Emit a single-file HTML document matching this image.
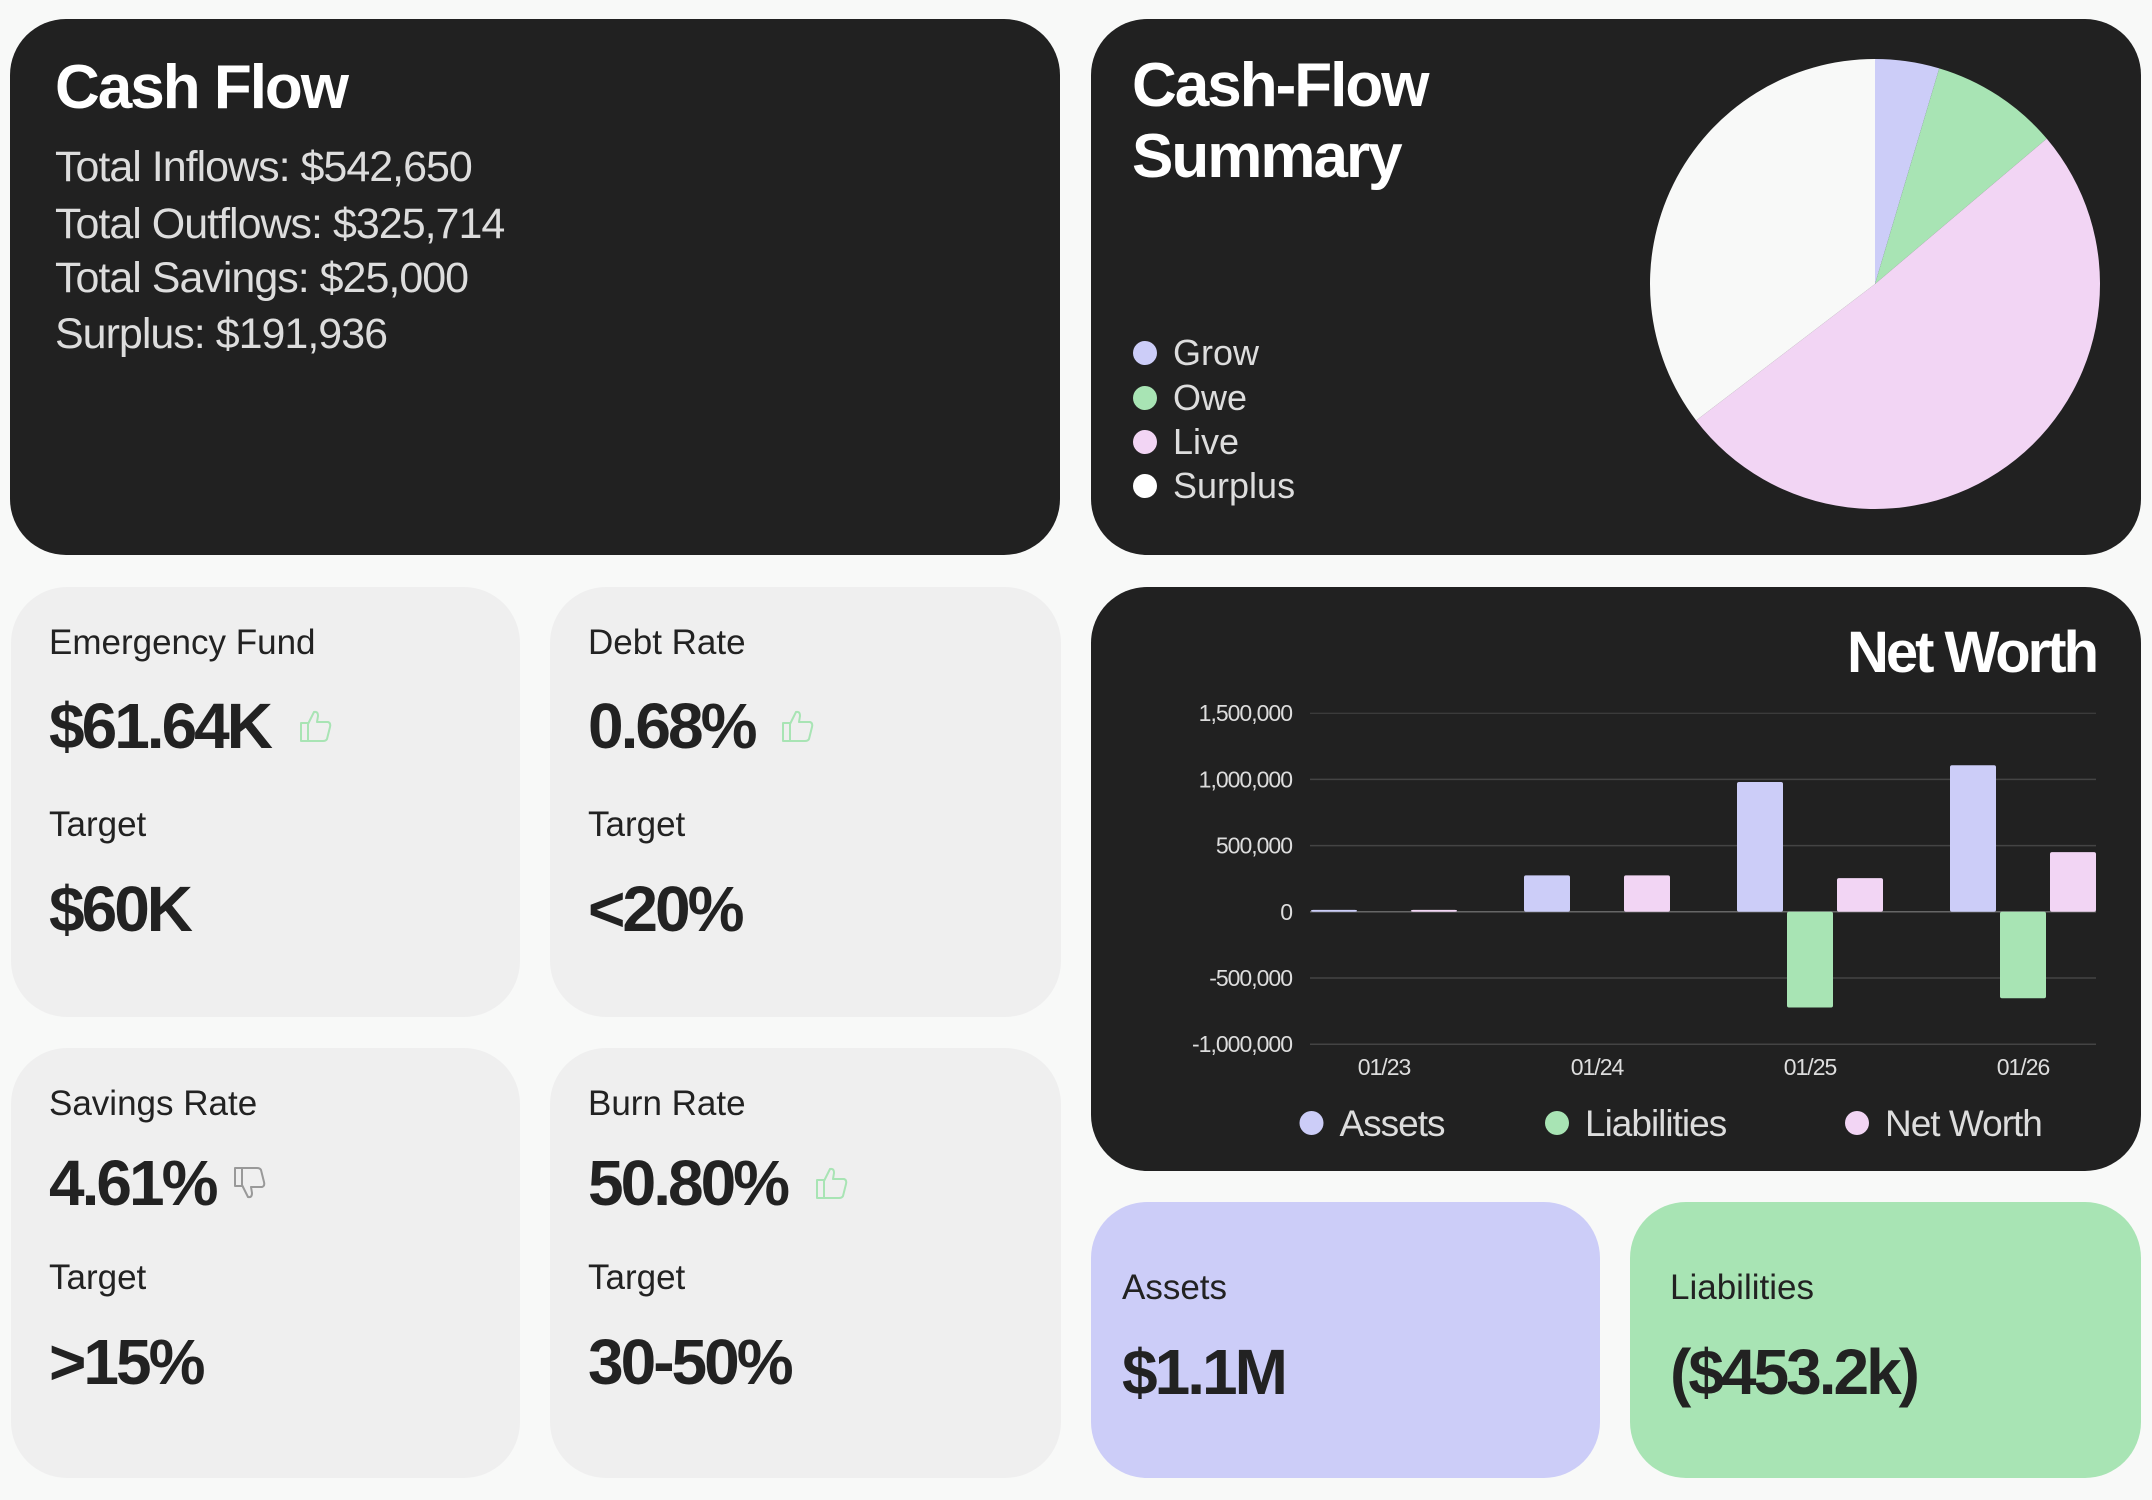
<!DOCTYPE html>
<html><head><meta charset="utf-8">
<style>
*{margin:0;padding:0;box-sizing:border-box}
body{width:2152px;height:1500px;background:#f8f9f8;font-family:"Liberation Sans",sans-serif;position:relative;overflow:hidden}
.card{position:absolute;border-radius:56px}
.dark{background:#212121}
.light{background:#efefef}
.t{position:absolute;white-space:nowrap;line-height:1}
.h{font-weight:bold;letter-spacing:-2px}
.lbl{font-size:35px;color:#222}
.big{font-size:64px;font-weight:bold;letter-spacing:-3px;color:#222}
.ic{position:absolute;width:34px;height:36px}
</style></head><body>
<svg width="0" height="0" style="position:absolute">
<defs>
<g id="thumb"><path d="M3 15 H10 V33 H3 Z M10 16 L16 4 Q20 3 20 8 L19 14 H30 Q33 15 32 19 L29 31 Q28 33 25 33 H10" fill="none" stroke-width="2" stroke-linejoin="round"/></g>
</defs></svg>
<div class="card dark" style="left:10px;top:19px;width:1050px;height:536px"></div>
<div class="t h" style="left:55px;top:57px;font-size:62px;color:#fff">Cash Flow</div>
<div class="t" style="left:55px;top:146px;font-size:43px;color:#ddd;letter-spacing:-1px">Total Inflows: $542,650</div>
<div class="t" style="left:55px;top:203px;font-size:43px;color:#ddd;letter-spacing:-1px">Total Outflows: $325,714</div>
<div class="t" style="left:55px;top:257px;font-size:43px;color:#ddd;letter-spacing:-1px">Total Savings: $25,000</div>
<div class="t" style="left:55px;top:313px;font-size:43px;color:#ddd;letter-spacing:-1px">Surplus: $191,936</div>

<div class="card dark" style="left:1091px;top:19px;width:1050px;height:536px"></div>
<div class="t h" style="left:1132px;top:50px;font-size:62px;color:#fff;line-height:71px">Cash-Flow<br>Summary</div>
<svg id="pie" width="2152" height="1500" style="position:absolute;left:0;top:0"></svg>

<div class="card light" style="left:11px;top:587px;width:509px;height:430px"></div>
<div class="t lbl" style="left:49px;top:625px">Emergency Fund</div>
<div class="t big" style="left:49px;top:694px">$61.64K</div>
<svg class="ic" style="left:298px;top:708px;stroke:#a8e4b4"><use href="#thumb"/></svg>
<div class="t lbl" style="left:49px;top:807px">Target</div>
<div class="t big" style="left:49px;top:877px">$60K</div>

<div class="card light" style="left:550px;top:587px;width:511px;height:430px"></div>
<div class="t lbl" style="left:588px;top:625px">Debt Rate</div>
<div class="t big" style="left:588px;top:694px">0.68%</div>
<svg class="ic" style="left:780px;top:708px;stroke:#a8e4b4"><use href="#thumb"/></svg>
<div class="t lbl" style="left:588px;top:807px">Target</div>
<div class="t big" style="left:588px;top:877px">&lt;20%</div>

<div class="card light" style="left:11px;top:1048px;width:509px;height:430px"></div>
<div class="t lbl" style="left:49px;top:1086px">Savings Rate</div>
<div class="t big" style="left:49px;top:1151px">4.61%</div>
<svg class="ic" style="left:232px;top:1165px;stroke:#999;transform:scaleY(-1)"><use href="#thumb"/></svg>
<div class="t lbl" style="left:49px;top:1260px">Target</div>
<div class="t big" style="left:49px;top:1330px">&gt;15%</div>

<div class="card light" style="left:550px;top:1048px;width:511px;height:430px"></div>
<div class="t lbl" style="left:588px;top:1086px">Burn Rate</div>
<div class="t big" style="left:588px;top:1151px">50.80%</div>
<svg class="ic" style="left:814px;top:1165px;stroke:#a8e4b4"><use href="#thumb"/></svg>
<div class="t lbl" style="left:588px;top:1260px">Target</div>
<div class="t big" style="left:588px;top:1330px">30-50%</div>

<div class="card dark" style="left:1091px;top:587px;width:1050px;height:584px"></div>
<svg id="bar" width="2152" height="1500" style="position:absolute;left:0;top:0"></svg>

<div class="card" style="left:1091px;top:1202px;width:509px;height:276px;background:#cccdf8"></div>
<div class="t lbl" style="left:1122px;top:1270px">Assets</div>
<div class="t big" style="left:1122px;top:1340px">$1.1M</div>
<div class="card" style="left:1630px;top:1202px;width:511px;height:276px;background:#a8e4b4"></div>
<div class="t lbl" style="left:1670px;top:1270px">Liabilities</div>
<div class="t big" style="left:1670px;top:1340px">($453.2k)</div>

<script>
const NS='http://www.w3.org/2000/svg';
const pieLabels=['Grow','Owe','Live','Surplus'];
const pieValues=[25000,50000,275666,191936];
const pieColors=['#cccdf8','#a8e4b4','#f2d5f4','#f8f9f8'];
const barCats=['01/23','01/24','01/25','01/26'];
const assetsVals=[15000,275000,980000,1107000];
const liabVals=[0,0,-723000,-653000];
const nwVals=[15000,275000,254000,451000];
const yTicks=[1500000,1000000,500000,0,-500000,-1000000];
const yTickLabels=['1,500,000','1,000,000','500,000','0','-500,000','-1,000,000'];
const seriesNames=['Assets','Liabilities','Net Worth'];

function mk(tag,attrs,parent){const e=document.createElementNS(NS,tag);for(const k in attrs)e.setAttribute(k,attrs[k]);parent.appendChild(e);return e;}

// pie
const pie=document.getElementById('pie');
const cx=1875,cy=284,r=225;
const tot=pieValues.reduce((a,b)=>a+b,0);
let a0=0;
pieValues.forEach((v,i)=>{
  const a1=a0+v/tot*Math.PI*2;
  const x0=cx+r*Math.sin(a0),y0=cy-r*Math.cos(a0),x1=cx+r*Math.sin(a1),y1=cy-r*Math.cos(a1);
  const p=mk('path',{d:`M${cx},${cy}L${x0},${y0}A${r},${r} 0 ${a1-a0>Math.PI?1:0} 1 ${x1},${y1}Z`,fill:pieColors[i]},pie);
  
  
  a0=a1;
  const ly=[365,410,454,498][i];
  const d=mk('circle',{cx:1145,cy:ly-12,r:12,fill:pieColors[i]==='#f8f9f8'?'#fff':pieColors[i]},pie);
  
  
  const t=mk('text',{x:1173,y:ly,fill:'#ddd','font-size':36,'font-family':'Liberation Sans, sans-serif'},pie);
  t.textContent=pieLabels[i];
  
  
});

// bar
const bar=document.getElementById('bar');
const y0px=911.8,pxPer=132.4/1000000;
const Y=v=>y0px-v*pxPer;
const gx0=1311,gx1=2096,bw=46,gap=4,gw=3*bw+2*gap,step=(gx1-gx0-gw)/3;
const title=mk('text',{x:2096,y:672,fill:'#fff','font-size':58,'font-weight':'bold','text-anchor':'end','letter-spacing':-3,'font-family':'Liberation Sans, sans-serif'},bar);
title.textContent='Net Worth';


yTicks.forEach((v,i)=>{
  const l=mk('line',{x1:gx0-1,x2:gx1,y1:Y(v),y2:Y(v),stroke:v===0?'#666':'#444','stroke-width':v===1500000?1:1.5},bar);
  
  
  const t=mk('text',{x:1292,y:Y(v)+8,fill:'#ddd','font-size':23,'text-anchor':'end','letter-spacing':-1,'font-family':'Liberation Sans, sans-serif'},bar);
  t.textContent=yTickLabels[i];
  
  
});
const sets=[assetsVals,liabVals,nwVals],cols=['#cccdf8','#a8e4b4','#f2d5f4'];
barCats.forEach((c,ci)=>{
  const gx=gx0+ci*step;
  sets.forEach((arr,si)=>{
    const v=arr[ci];if(v===0)return;
    const ya=Y(Math.max(v,0)),yb=Y(Math.min(v,0));
    const rc=mk('rect',{x:gx+si*(bw+gap),y:ya,width:bw,height:Math.max(yb-ya,1.5),fill:cols[si],rx:2},bar);
    
    
  });
  const t=mk('text',{x:gx+gw/2,y:1075,fill:'#ddd','font-size':23,'text-anchor':'middle','letter-spacing':-1,'font-family':'Liberation Sans, sans-serif'},bar);
  t.textContent=c;
  
  
});
const legX=[1311.5,1557,1857];
seriesNames.forEach((n,i)=>{
  const d=mk('circle',{cx:legX[i],cy:1123,r:12,fill:cols[i]},bar);
  
  
  const t=mk('text',{x:legX[i]+28,y:1136,fill:'#ddd','font-size':37,'letter-spacing':-1,'font-family':'Liberation Sans, sans-serif'},bar);
  t.textContent=n;
  
  
});
</script>
</body></html>
